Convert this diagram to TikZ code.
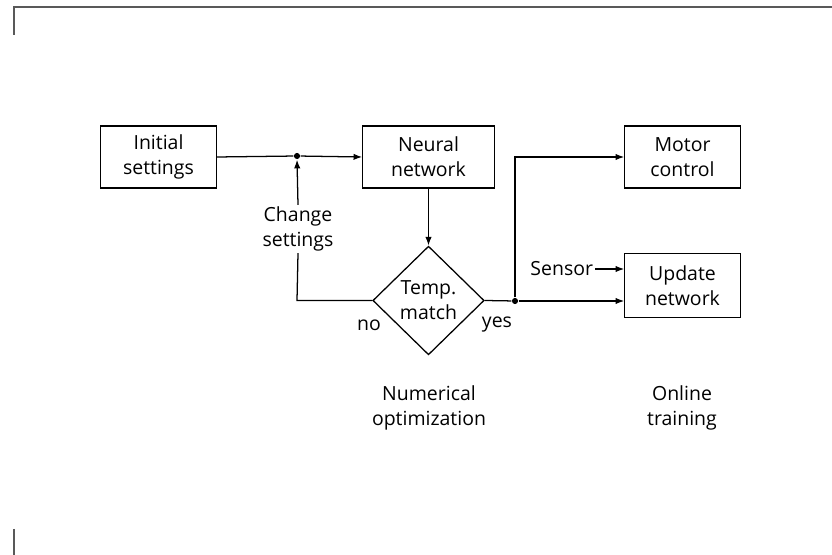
\documentclass[tikz,border=0pt]{standalone}
\usepackage{fontspec}
\setmainfont{Open Sans}
\usetikzlibrary{shapes.geometric,arrows.meta}
\begin{document}
\begin{tikzpicture}[x=0.75pt,y=-0.75pt,
  font=\fontsize{14.6}{18.8}\selectfont,
  line width=0.95pt,
  >={Latex[length=6.5pt,width=4.8pt]},
  block/.style={draw, align=center, inner sep=0pt, minimum width=86.5pt, minimum height=46.5pt},
  decision/.style={draw, diamond, align=center, inner sep=0pt, minimum width=83.5pt, minimum height=81.5pt},
  caption/.style={align=center, inner sep=1pt},
  joint/.style={circle, fill=black, inner sep=0pt, minimum size=4.6pt},
  frame/.style={draw=black!65, line width=1.6pt}]
  \useasboundingbox (0,0) rectangle (832,555);

  % page frame fragments
  \draw[frame] (14,35) -- (14,7) -- (832,7);
  \draw[frame] (14,529) -- (14,555);

  % blocks
  \node[block] (init) at (158.5,157) {Initial\\settings};
  \node[block, minimum width=98.5pt] (nn) at (428.5,157) {Neural\\network};
  \node[block] (motor) at (682.5,157) {Motor\\control};
  \node[block, minimum height=47.5pt] (update) at (682.5,285.5) {Update\\network};
  \node[decision] (match) at (428.5,300.5) {Temp.\\match};

  % junctions
  \node[joint] (j1) at (297,156) {};
  \node[joint] (j2) at (515,301) {};
  \coordinate (back) at (297,300.5);
  \coordinate (up) at (515,157);

  % main flow
  \draw (init.east) -- (j1);
  \draw[->] (j1) -- (nn.west);
  \draw[->] (nn.south) -- (match.north);

  % "no" branch back to the settings
  \node[caption, fill=white] (change) at (298,229) {Change\\settings};
  \draw (match.west) -- (back) -- (change.south);
  \draw[->] (change.north) -- (j1.south);
  \node[caption] (no) at (369,325) {no};

  % "yes" branch to the online part
  \draw (match.east) -- (j2);
  \draw[->] (j2) -- (j2 -| update.west);
  \draw[->] (j2) -- (up) -- (motor.west);
  \node[caption] (yes) at (497,325) {yes};

  \node[caption, anchor=east] (sensor) at (595,269) {Sensor};
  \draw[->] (sensor.east) -- (sensor.east -| update.west);

  % section captions
  \node[caption] (numopt) at (429,408) {Numerical\\optimization};
  \node[caption] (online) at (682,408) {Online\\training};
\end{tikzpicture}
\end{document}
